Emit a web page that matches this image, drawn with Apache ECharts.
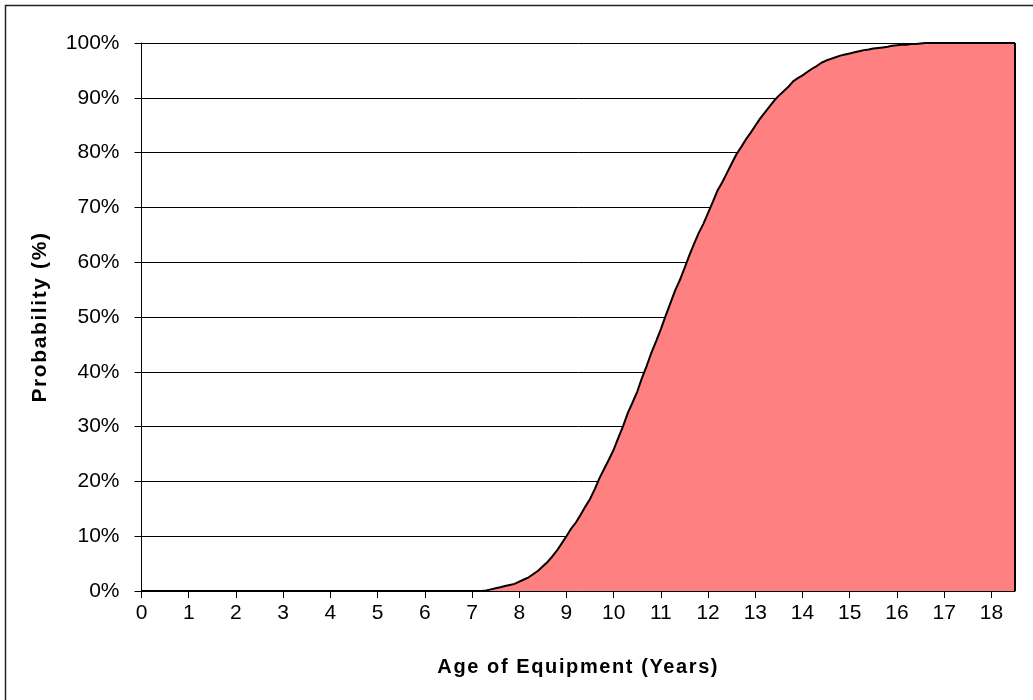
<!DOCTYPE html>
<html>
<head>
<meta charset="utf-8">
<script src="https://cdn.jsdelivr.net/npm/echarts@6/dist/echarts.min.js"></script>
<style>
  html, body { margin: 0; padding: 0; background: #fff; }
  #chart { width: 1033px; height: 700px; }
</style>
</head>
<body>
<div id="chart"></div>
<script>
// Age of equipment (years) at which each cumulative probability was read
const age = [0,
  7.2,7.3,7.4,7.5,7.6,7.7,7.8,7.9,8.0,8.1,
  8.2,8.3,8.4,8.5,8.6,8.7,8.8,8.9,9.0,9.1,
  9.2,9.3,9.4,9.5,9.6,9.7,9.8,9.9,10.0,10.1,
  10.2,10.3,10.4,10.5,10.6,10.7,10.8,10.9,11.0,11.1,
  11.2,11.3,11.4,11.5,11.6,11.7,11.8,11.9,12.0,12.1,
  12.2,12.3,12.4,12.5,12.6,12.7,12.8,12.9,13.0,13.1,
  13.2,13.3,13.4,13.5,13.6,13.7,13.8,13.9,14.0,14.1,
  14.2,14.3,14.4,14.5,14.6,14.7,14.8,14.9,15.0,15.1,
  15.2,15.3,15.4,15.5,15.6,15.7,15.8,15.9,16.0,16.1,
  16.2,16.3,16.4,16.5,16.6,
  18.5];
// Cumulative probability (%)
const probability = [0,
  0,0.1,0.3,0.5,0.7,0.9,1.1,1.3,1.7,2.1,
  2.5,3.1,3.7,4.5,5.3,6.3,7.4,8.7,10.0,11.4,
  12.5,13.9,15.4,16.8,18.6,20.6,22.3,24.0,25.8,28.0,
  30.1,32.5,34.4,36.4,38.9,41.1,43.5,45.6,47.8,50.2,
  52.5,54.8,56.7,58.9,61.2,63.3,65.3,67.0,69.0,71.0,
  73.1,74.6,76.3,78.0,79.7,81.0,82.4,83.6,84.9,86.2,
  87.3,88.4,89.5,90.4,91.2,92.0,93.0,93.6,94.1,94.7,
  95.3,95.8,96.4,96.8,97.1,97.4,97.7,97.9,98.1,98.3,
  98.5,98.7,98.8,99.0,99.1,99.2,99.3,99.5,99.6,99.7,
  99.7,99.8,99.8,99.9,100,
  100];
// X tick labels
const xTicks = [0,1,2,3,4,5,6,7,8,9,10,11,12,13,14,15,16,17,18];
const xMax = 18.5;
const xTitle = 'Age of Equipment (Years)';
const yTitle = 'Probability (%)';

// The reference's bold axis titles are drawn with slightly widened letter spacing.
(function () {
  const proto = CanvasRenderingContext2D.prototype;
  if (!('letterSpacing' in proto)) return;
  const origFill = proto.fillText;
  proto.fillText = function (t, x, y, w) {
    const bold = /bold|700/.test(this.font);
    if (bold) this.letterSpacing = '1.6px';
    const r = w === undefined ? origFill.call(this, t, x, y) : origFill.call(this, t, x, y, w);
    if (bold) this.letterSpacing = '0px';
    return r;
  };
})();

const FONT = '"Liberation Sans", Arial, sans-serif';
const chart = echarts.init(document.getElementById('chart'), null, { renderer: 'canvas' });

chart.setOption({
  animation: false,
  backgroundColor: '#ffffff',
  graphic: [{
    type: 'rect',
    shape: { x: 5.5, y: 5.5, width: 1200, height: 900 },
    style: { fill: 'none', stroke: '#222', lineWidth: 1.5 },
    silent: true
  }],
  grid: { left: 141.5, right: 18, top: 43, bottom: 109, containLabel: false },
  xAxis: {
    type: 'value',
    min: 0,
    max: xMax,
    interval: 1,
    name: xTitle,
    nameLocation: 'middle',
    nameGap: 66,
    nameTextStyle: { fontFamily: FONT, fontSize: 20, fontWeight: 'bold', color: '#000' },
    axisLine: { show: true, lineStyle: { color: '#000', width: 1 } },
    axisTick: { show: true, length: 7, lineStyle: { color: '#000' }, customValues: xTicks },
    axisLabel: { customValues: xTicks, fontFamily: FONT, fontSize: 21, color: '#000', margin: 12 },
    splitLine: { show: false }
  },
  yAxis: {
    type: 'value',
    min: 0,
    max: 100,
    interval: 10,
    name: yTitle,
    nameLocation: 'middle',
    nameGap: 91,
    nameTextStyle: { fontFamily: FONT, fontSize: 21, fontWeight: 'bold', color: '#000' },
    axisLine: { show: true, lineStyle: { color: '#000', width: 1 } },
    axisTick: { show: true, length: 7, lineStyle: { color: '#000' } },
    axisLabel: { formatter: '{value}%', fontFamily: FONT, fontSize: 21, color: '#000', margin: 22 },
    splitLine: { show: true, lineStyle: { color: '#000', width: 1 } }
  },
  series: [{
    type: 'line',
    data: age.map((a, i) => [a, probability[i]]),
    showSymbol: false,
    symbol: 'none',
    lineStyle: { color: '#000', width: 2 },
    areaStyle: { color: '#FF8080', opacity: 1 },
    silent: true,
    z: 3
  }, {
    type: 'line',
    data: [[xMax, 0], [xMax, probability[probability.length - 1]]],
    showSymbol: false,
    symbol: 'none',
    lineStyle: { color: '#000', width: 2 },
    silent: true,
    z: 4
  }]
});
</script>
</body>
</html>
